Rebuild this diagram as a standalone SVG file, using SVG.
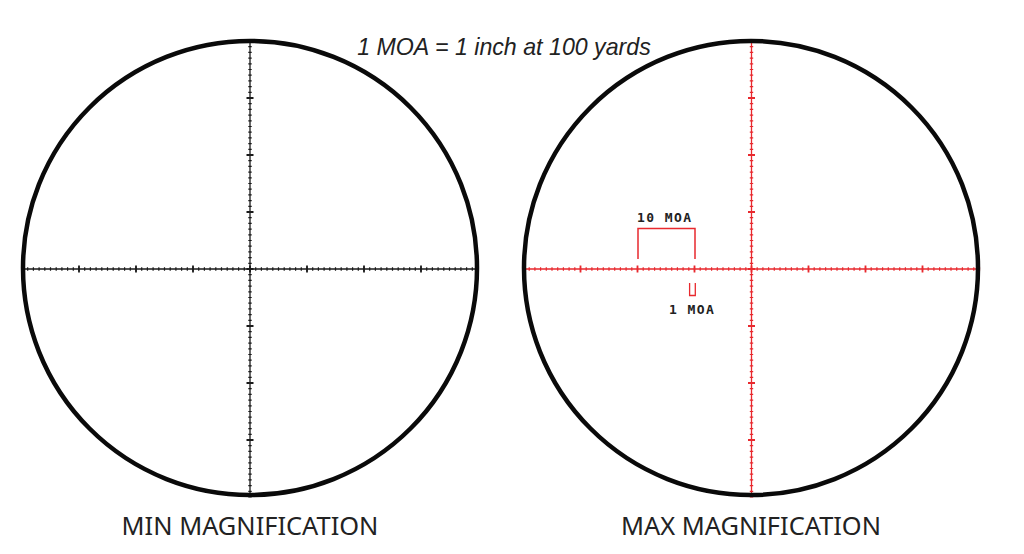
<svg xmlns="http://www.w3.org/2000/svg" width="1024" height="554" viewBox="0 0 1024 554">
<defs>
<style>
.ring{fill:none;stroke:#0a0a0a;stroke-width:4.5}
.axis{stroke-width:1.3;fill:none}
.minor{stroke-width:3.4;stroke-dasharray:1.2 4.5;fill:none}
.major{stroke-width:7;stroke-dasharray:1.8 55.2;fill:none}
.blk{stroke:#1a1a1a}
.red{stroke:#e8292e}
.cap{font-family:"Noto Sans","Liberation Sans",sans-serif;font-size:25.4px;fill:#222;text-anchor:middle}
.lbl{font-family:"DejaVu Sans Mono","Liberation Mono",monospace;font-weight:bold;font-size:13px;fill:#222;letter-spacing:1.4px}
</style>
</defs>
<text x="504" y="55" font-family="Liberation Sans, Arial, sans-serif" font-style="italic" font-size="23.2" fill="#222" text-anchor="middle">1 MOA = 1 inch at 100 yards</text>
<g id="min-scope">
<g class="blk">
<path class="axis" d="M23 269H477M250 41V495"/>
<path class="minor" d="M21.4 269H478.6M250 40.4V497.6"/>
<path class="major" d="M78.1 269H421.9M250 97.1V440.9"/>
</g>
<circle class="ring" cx="250" cy="268" r="227"/>
<text class="cap" x="250" y="535">MIN MAGNIFICATION</text>
</g>
<g id="max-scope">
<g class="red">
<path class="axis" d="M524 269H978M751.5 41V495"/>
<path class="minor" d="M522.9 269H980.1M751.5 40.4V497.6"/>
<path class="major" d="M579.6 269H923.4M751.5 97.1V440.9"/>
</g>
<circle class="ring" cx="751" cy="268" r="227"/>
<text class="cap" x="751" y="535">MAX MAGNIFICATION</text>
</g>
<g id="annotations">
<path d="M638 259V228.5H695V259" fill="none" stroke="#e8292e" stroke-width="1.5"/>
<path d="M689.6 283V295.5H695.3V283" fill="none" stroke="#e8292e" stroke-width="1.3"/>
<text class="lbl" x="637" y="221.5">10 MOA</text>
<text class="lbl" x="669" y="313.5">1 MOA</text>
</g>
</svg>
